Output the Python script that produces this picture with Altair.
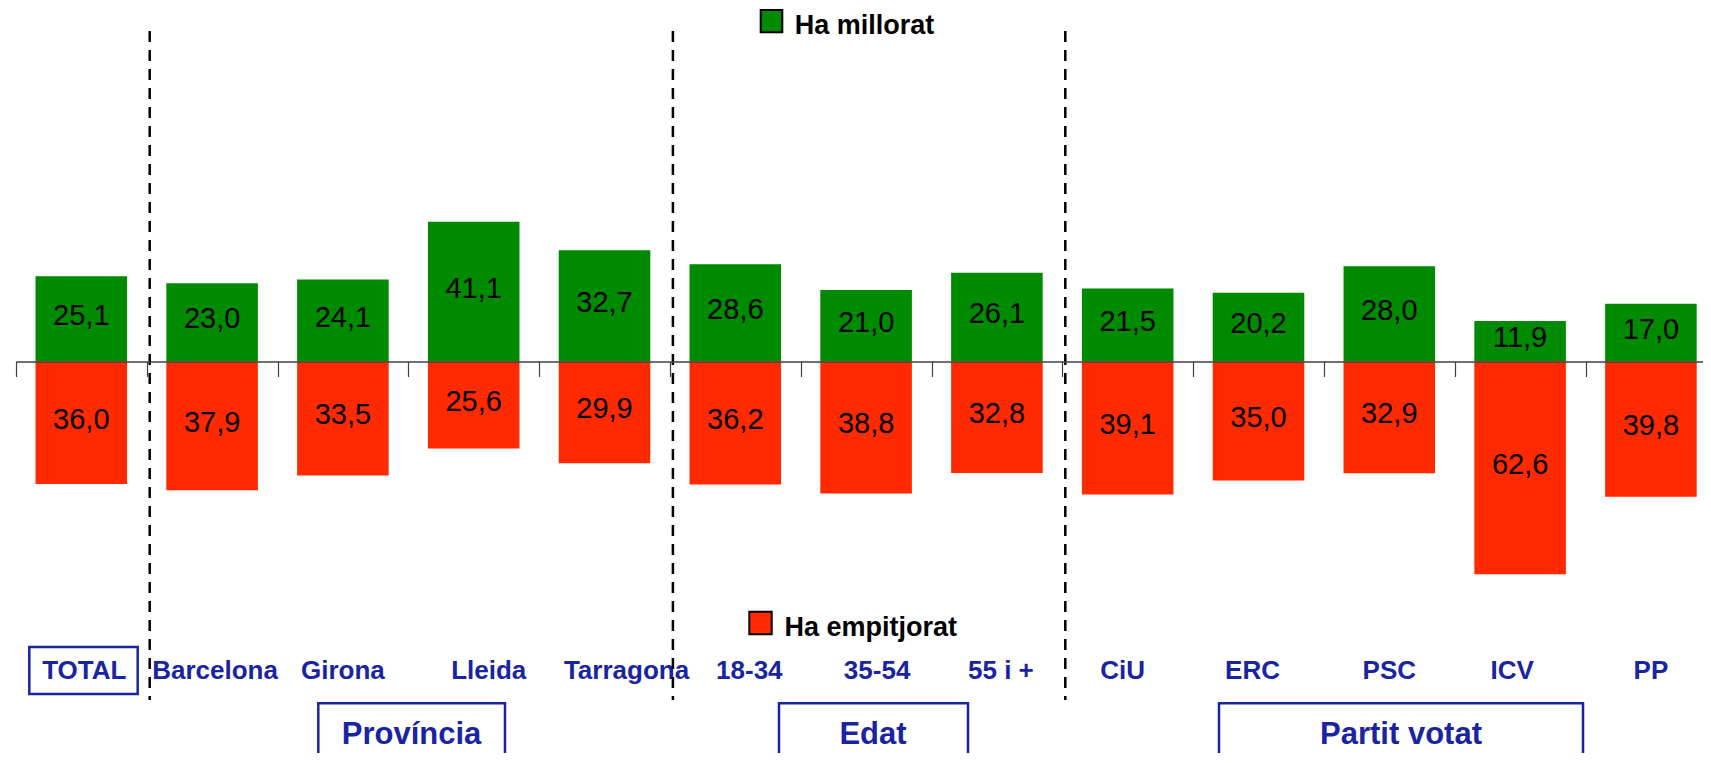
import altair as alt
import pandas as pd

# ---------------- data ----------------
categories = ["TOTAL", "Barcelona", "Girona", "Lleida", "Tarragona",
              "18-34", "35-54", "55 i +", "CiU", "ERC", "PSC", "ICV", "PP"]
millorat = [25.1, 23.0, 24.1, 41.1, 32.7, 28.6, 21.0, 26.1, 21.5, 20.2, 28.0, 11.9, 17.0]
empitjorat = [36.0, 37.9, 33.5, 25.6, 29.9, 36.2, 38.8, 32.8, 39.1, 35.0, 32.9, 62.6, 39.8]
series_names = ["Ha millorat", "Ha empitjorat"]
group_names = ["Província", "Edat", "Partit votat"]
group_first = ["Barcelona", "18-34", "CiU"]   # first category of each group (separators)

# ---------------- styles ----------------
GREEN = "#008A00"
RED = "#FF2A00"
BLUE = "#1A24A0"
FONT = "Liberation Sans"
W, H = 1695, 745
Y0 = 353.5          # pixel row of the zero line
PPU = 3.4           # pixels per percentage point
PAD_INNER = 0.3
STEP = 1700.4 / len(categories)
HALF_GAP = PAD_INNER * STEP / 2
# small horizontal nudges of the category labels, as placed in the original
LABEL_DX = [3, 3, 0, 15, 22, 14, 11, 4, -5, -6, 0, -8, 0]

rows = []
for c, g, r in zip(categories, millorat, empitjorat):
    rows.append({"cat": c, "serie": series_names[0], "value": g, "mid": g / 2,
                 "label": f"{g:.1f}".replace(".", ",")})
    rows.append({"cat": c, "serie": series_names[1], "value": -r, "mid": -r / 2,
                 "label": f"{r:.1f}".replace(".", ",")})
df = pd.DataFrame(rows)

xscale = alt.Scale(domain=categories, range=[7.9, 1708.3],
                   paddingInner=PAD_INNER, paddingOuter=PAD_INNER / 2)
yscale = alt.Scale(domain=[(Y0 - H) / PPU, Y0 / PPU], nice=False, zero=False)
xaxis = alt.Axis(orient="bottom", offset=-(H - Y0), labels=False, title=None,
                 domainColor="#404040", domainWidth=1.5, tickColor="#404040",
                 tickSize=15, tickWidth=1.2, bandPosition=0, tickOffset=-HALF_GAP,
                 grid=False, zindex=1)

X = alt.X("cat:N", scale=xscale, axis=xaxis, sort=categories)
one = pd.DataFrame({"k": [0]})

bars = alt.Chart(df).mark_bar().encode(
    x=X,
    y=alt.Y("value:Q", scale=yscale, axis=None, stack=None),
    y2=alt.datum(0),
    color=alt.Color("serie:N", scale=alt.Scale(domain=series_names, range=[GREEN, RED]), legend=None),
)

values = alt.Chart(df).mark_text(font=FONT, fontSize=29, color="black", dy=-3).encode(
    x=X,
    y=alt.Y("mid:Q", scale=yscale, axis=None),
    text="label:N",
)

layers = [bars, values]

for i, c in enumerate(categories):
    layers.append(alt.Chart(pd.DataFrame({"cat": [c]})).mark_text(
        font=FONT, fontSize=26, fontWeight="bold", color=BLUE, baseline="alphabetic", dx=LABEL_DX[i]
    ).encode(x=X, y=alt.value(671.3), text="cat:N"))

separators = alt.Chart(pd.DataFrame({"cat": group_first})).mark_rule(
    color="black", strokeWidth=2.5, strokeDash=[11, 8], xOffset=-HALF_GAP + 3
).encode(
    x=alt.X("cat:N", scale=xscale, axis=xaxis, sort=categories, bandPosition=0),
    y=alt.value(23), y2=alt.value(692),
)
layers.append(separators)

# TOTAL box
layers.append(alt.Chart(one).mark_rect(fill="white", fillOpacity=0, stroke=BLUE, strokeWidth=2.5).encode(
    x=alt.value(21.3), x2=alt.value(129.7), y=alt.value(639), y2=alt.value(686)))

# group boxes and labels
group_boxes = [(310.3, 497.0, 403.5), (771.0, 960.0, 865.0), (1211.0, 1575.0, 1393.0)]
for name, (x1, x2, xc) in zip(group_names, group_boxes):
    layers.append(alt.Chart(one).mark_rect(fill="white", fillOpacity=0, stroke=BLUE, strokeWidth=2.5).encode(
        x=alt.value(x1), x2=alt.value(x2), y=alt.value(695.3), y2=alt.value(770)))
    layers.append(alt.Chart(one).mark_text(font=FONT, fontSize=31, fontWeight="bold", color=BLUE,
                                           align="center", baseline="alphabetic").encode(
        x=alt.value(xc), y=alt.value(736), text=alt.value(name)))

# legend entries
legend_pos = [((752.7, 774.3, 2.0, 24.3), (786.7, 26.3)), ((741.3, 763.7, 603.7, 626.3), (776.5, 627.7))]
for name, col, ((sx1, sx2, sy1, sy2), (tx, ty)) in zip(series_names, [GREEN, RED], legend_pos):
    layers.append(alt.Chart(one).mark_rect(fill=col, stroke="black", strokeWidth=2).encode(
        x=alt.value(sx1), x2=alt.value(sx2), y=alt.value(sy1), y2=alt.value(sy2)))
    layers.append(alt.Chart(one).mark_text(font=FONT, fontSize=27, fontWeight="bold", color="black",
                                           align="left", baseline="alphabetic").encode(
        x=alt.value(tx), y=alt.value(ty), text=alt.value(name)))

chart = alt.layer(*layers).properties(
    width=W, height=H, autosize=alt.AutoSizeParams(type="none"), padding=0
).configure_view(stroke=None)

chart.save("out.html", embed_options={"renderer": "svg", "actions": False})
